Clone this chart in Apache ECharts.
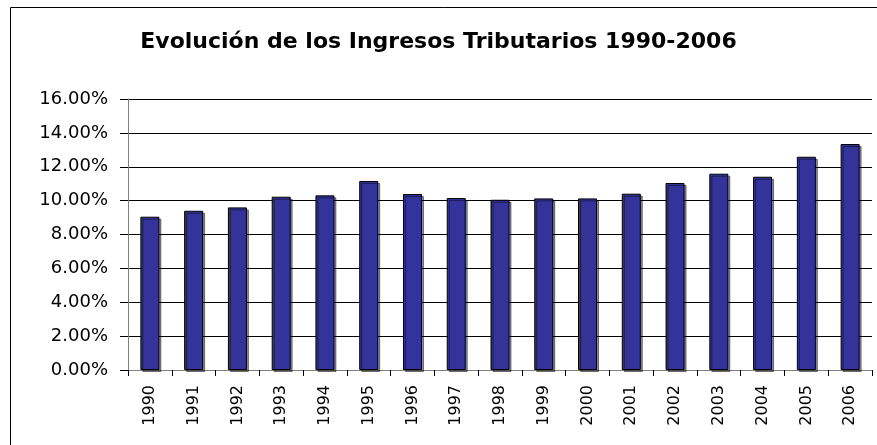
<!DOCTYPE html>
<html>
<head>
<meta charset="utf-8">
<script src="https://cdn.jsdelivr.net/npm/echarts@6/dist/echarts.min.js"></script>
<style>
html,body{margin:0;padding:0;background:#fff;}
#chart{width:877px;height:445px;}
</style>
</head>
<body>
<div id="chart"></div>
<script>
// 年份
var years = ['1990','1991','1992','1993','1994','1995','1996','1997','1998',
	'1999','2000','2001','2002','2003','2004','2005','2006'];
// 税收收入占比(%)
var ingresos = [9.05, 9.40, 9.60, 10.23, 10.31, 11.16, 10.39, 10.15, 10.05,
	10.13, 10.13, 10.41, 11.04, 11.59, 11.41, 12.59, 13.34];
var titulo = 'Evolución de los Ingresos Tributarios 1990-2006';

var chart = echarts.init(document.getElementById('chart'), null, {renderer: 'canvas'});
var font = 'DejaVu Sans, Verdana, sans-serif';

var option = {
	animation: false,
	title: {
		text: titulo,
		left: 'center',
		top: 26,
		textStyle: {fontFamily: font, fontSize: 22, fontWeight: 'bold', color: '#000'}
	},
	// 图表外框(右侧和底部被截掉)
	graphic: [{
		type: 'rect',
		shape: {x: 10.5, y: 7.5, width: 880, height: 450},
		style: {fill: null, stroke: '#000', lineWidth: 1},
		silent: true
	}],
	grid: {left: 128, right: 5, top: 99, bottom: 75},
	xAxis: {
		type: 'category',
		data: years,
		axisLine: {lineStyle: {color: '#808080', width: 1}},
		axisTick: {show: true, alignWithLabel: false, length: 6, lineStyle: {color: '#000'}},
		axisLabel: {rotate: 90, fontFamily: font, fontSize: 16, color: '#000', margin: 15}
	},
	yAxis: {
		type: 'value',
		min: 0, max: 16, interval: 2,
		axisLine: {show: true, lineStyle: {color: '#808080', width: 1}},
		axisTick: {show: true, length: 8, inside: false, lineStyle: {color: '#000'}},
		axisLabel: {
			fontFamily: font, fontSize: 18, color: '#000', margin: 20,
			formatter: function (v) { return v.toFixed(2) + '%'; }
		},
		splitLine: {show: true, lineStyle: {color: '#000', width: 1}}
	},
	series: [{
		type: 'bar',
		data: ingresos,
		barWidth: 19,
		itemStyle: {
			color: '#333399',
			borderColor: '#000',
			borderWidth: 1,
			shadowColor: 'rgba(0,0,0,0.45)',
			shadowOffsetX: 2,
			shadowOffsetY: 2,
			shadowBlur: 0
		}
	}]
};
chart.setOption(option);
</script>
</body>
</html>
